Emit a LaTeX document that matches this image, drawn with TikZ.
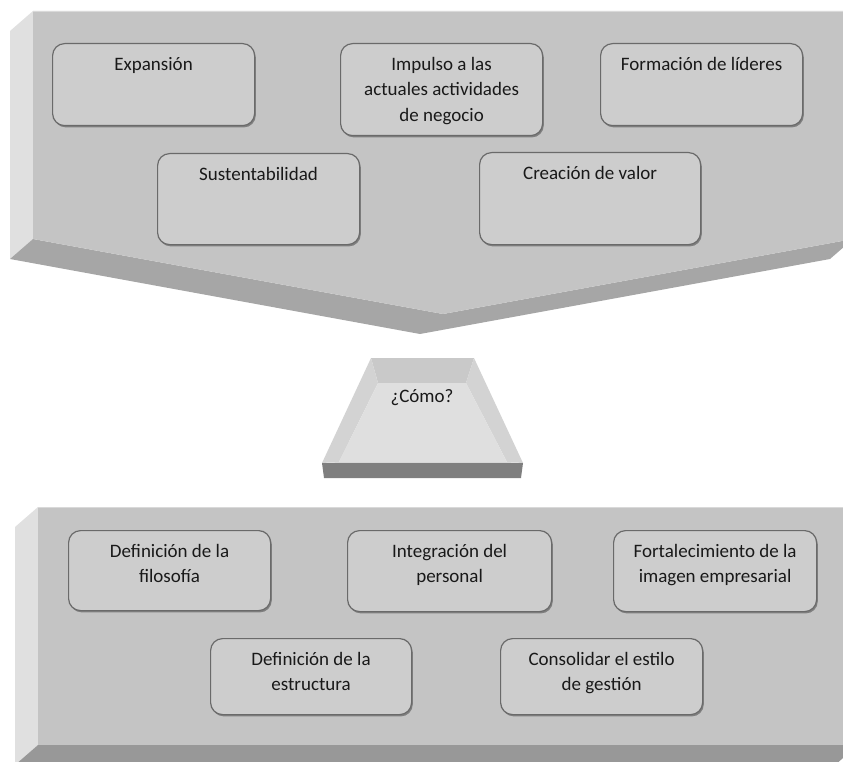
\documentclass[tikz,border=0pt]{standalone}
\usepackage{fontspec}
\setmainfont{Carlito}
\usetikzlibrary{shadows}

\definecolor{faceC}{HTML}{C4C4C4}
\definecolor{sideC}{HTML}{E0E0E0}
\definecolor{darkA}{HTML}{A6A6A6}
\definecolor{darkB}{HTML}{989898}
\definecolor{boxC}{HTML}{CDCDCD}
\definecolor{edgeC}{HTML}{6A6A6A}
\definecolor{trBack}{HTML}{C9C9C9}
\definecolor{trSide}{HTML}{D3D3D3}
\definecolor{trFloor}{HTML}{DFDFDF}
\definecolor{trFront}{HTML}{7F7F7F}

\tikzset{
  itembox/.style={draw=edgeC, line width=1.2pt, fill=boxC, rounded corners=12pt,
    anchor=north west, inner sep=0pt,
    drop shadow={shadow xshift=1.2pt, shadow yshift=-1.8pt, fill=black, opacity=0.35}},
  itemtext/.style={anchor=north, inner sep=0pt, align=center, text=black!90,
    font=\fontsize{19}{25.5}\selectfont},
}
\newcommand{\tstrut}{\rule{0pt}{16pt}}

\begin{document}
\begin{tikzpicture}[x=1pt, y=-1pt]
\useasboundingbox (0,0) rectangle (843,762);
\clip (0,0) rectangle (843,762);

% upper chevron block
\fill[sideC] (10,31) -- (33,11) -- (33,239) -- (10,259) -- cycle;
\fill[darkA] (33,239) -- (443,314) -- (853,239) -- (830,259) -- (420,334) -- (10,259) -- cycle;
\fill[faceC] (33,11) -- (853,11) -- (853,239) -- (443,314) -- (33,239) -- cycle;
\draw[black!15, line width=0.8pt] (33,11.4) -- (853,11.4);

% lower block
\fill[sideC] (15,527) -- (38,507) -- (38,745) -- (15,765) -- cycle;
\fill[darkB] (38,745) -- (858,745) -- (835,765) -- (15,765) -- cycle;
\fill[faceC] (38,507) rectangle (858,745);
\draw[black!15, line width=0.8pt] (38,507.4) -- (858,507.4);

% tray in the middle
\fill[trBack] (371,358) -- (474,358) -- (466,383) -- (378,383) -- cycle;
\fill[trSide] (371,358) -- (378,383) -- (339,462) -- (322,463) -- cycle;
\fill[trSide] (474,358) -- (466,383) -- (507,462) -- (523,463) -- cycle;
\fill[trFloor] (378,383) -- (466,383) -- (507,462) -- (339,462) -- cycle;
\fill[trSide!90!white] (339,462) -- (507,462) -- (523,463) -- (322,463) -- cycle;
\fill[trFront] (322,463) -- (523,463) -- (521,478) -- (324,478) -- cycle;
\node[anchor=base, inner sep=0pt, font=\fontsize{19}{25.5}\selectfont, text=black!90]
  (como) at (422,402) {¿Cómo?};

% goals
\node[itembox, minimum width=202pt, minimum height=82pt] (g1) at (52,43) {};
\node[itembox, minimum width=202pt, minimum height=92pt] (g2) at (340,43) {};
\node[itembox, minimum width=202pt, minimum height=82pt] (g3) at (600,43) {};
\node[itembox, minimum width=202pt, minimum height=91pt] (g4) at (157,153) {};
\node[itembox, minimum width=221pt, minimum height=92pt] (g5) at (479,152) {};

\node[itemtext] (t1) at ([yshift=-11pt]g1.north) {\tstrut Expansión};
\node[itemtext] (t2) at ([yshift=-11pt]g2.north) {\tstrut Impulso a las\\actuales actividades\\de negocio};
\node[itemtext] (t3) at ([yshift=-11pt]g3.north) {\tstrut Formación de líderes};
\node[itemtext] (t4) at ([yshift=-11pt]g4.north) {\tstrut Sustentabilidad};
\node[itemtext] (t5) at ([yshift=-11pt]g5.north) {\tstrut Creación de valor};

% means
\node[itembox, minimum width=202pt, minimum height=80pt] (m1) at (68,530) {};
\node[itembox, minimum width=204pt, minimum height=81pt] (m2) at (347,530) {};
\node[itembox, minimum width=203pt, minimum height=81pt] (m3) at (613,530) {};
\node[itembox, minimum width=201pt, minimum height=76pt] (m4) at (210,638) {};
\node[itembox, minimum width=202pt, minimum height=76pt] (m5) at (500,638) {};

\node[itemtext] (u1) at ([yshift=-11pt]m1.north) {\tstrut Definición de la\\filosofía};
\node[itemtext] (u2) at ([yshift=-11pt]m2.north) {\tstrut Integración del\\personal};
\node[itemtext] (u3) at ([yshift=-11pt]m3.north) {\tstrut Fortalecimiento de la\\imagen empresarial};
\node[itemtext] (u4) at ([yshift=-11pt]m4.north) {\tstrut Definición de la\\estructura};
\node[itemtext] (u5) at ([yshift=-11pt]m5.north) {\tstrut Consolidar el estilo\\de gestión};
\end{tikzpicture}
\end{document}
